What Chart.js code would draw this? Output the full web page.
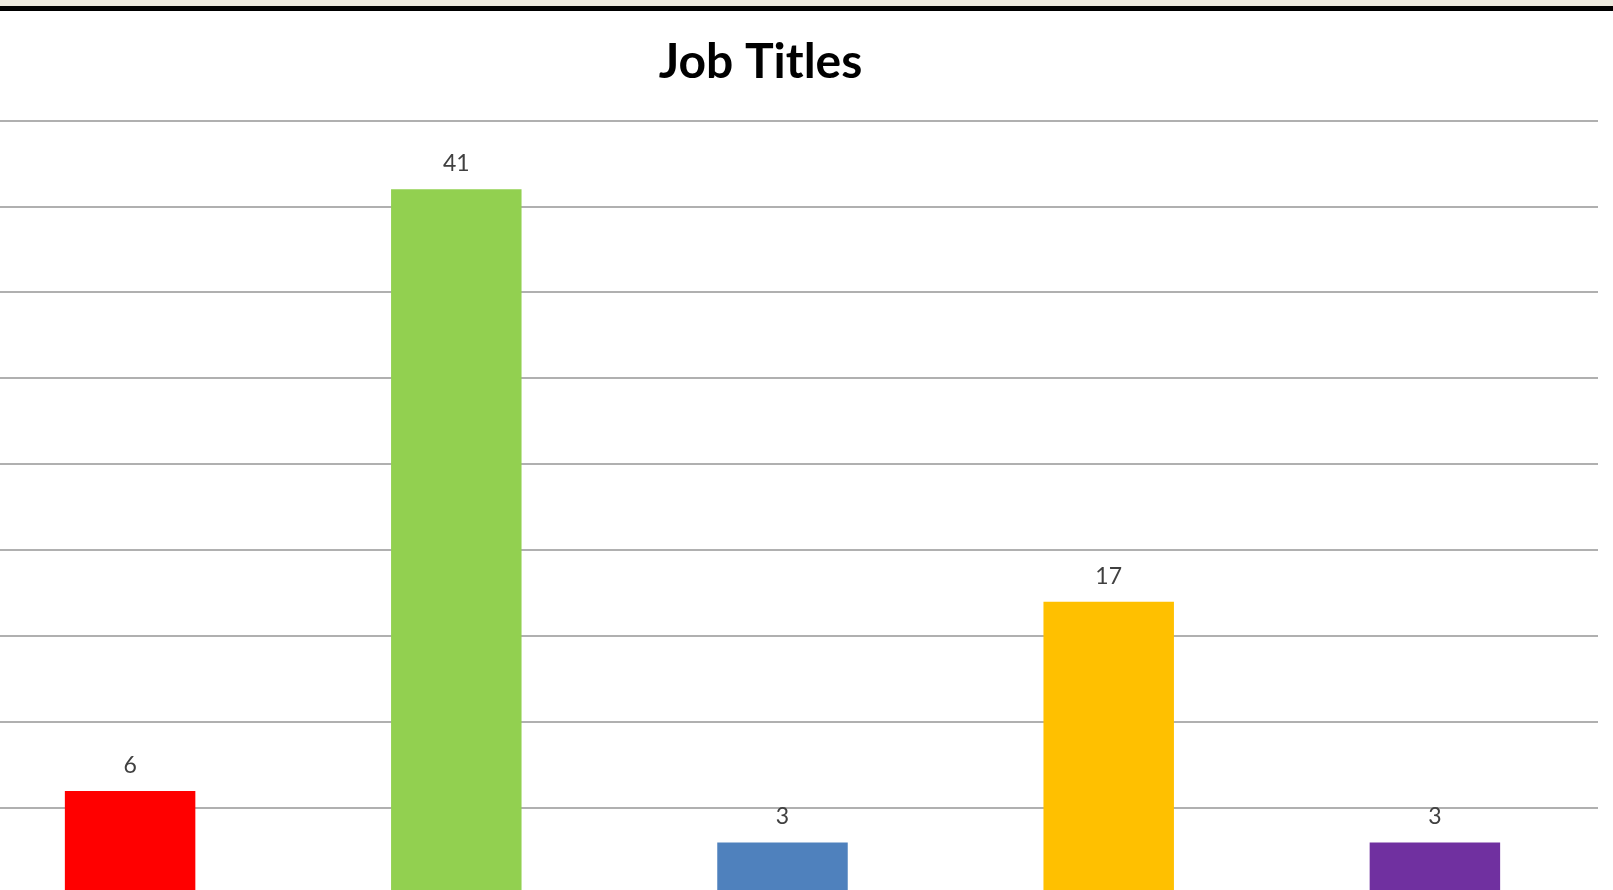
<!DOCTYPE html>
<html>
<head>
<meta charset="utf-8">
<title>Job Titles</title>
<script src="https://cdn.jsdelivr.net/npm/chart.js@4"></script>
<style>
    html, body {
        margin: 0;
        padding: 0;
        width: 1613px;
        height: 890px;
        overflow: hidden;
        background: #ffffff;
    }
    #topStrip {
        position: absolute;
        left: 0;
        top: 0;
        width: 1613px;
        height: 6px;
        background: #ece9de;
        z-index: 2;
    }
    #topRule {
        position: absolute;
        left: 0;
        top: 6px;
        width: 1613px;
        height: 5px;
        background: #000000;
        z-index: 2;
    }
    #jobChart {
        position: absolute;
        left: -77px;
        top: 0;
    }
</style>
</head>
<body>
<div id="topStrip"></div>
<div id="topRule"></div>
<canvas id="jobChart" width="1675" height="900"></canvas>
<script>
// categories are cut off in the reference, so these never show
const categories = ["Title 1", "Title 2", "Title 3", "Title 4", "Title 5"];
const counts = [6, 41, 3, 17, 3];
const barColors = ["#ff0000", "#92d050", "#4f81bd", "#ffc000", "#7030a0"];
const yTicks = [0, 5, 10, 15, 20, 25, 30, 35, 40, 45];

const textColor = "#404040";
const fontFamily = "Lato, 'DejaVu Sans', sans-serif";

// value labels above each bar
const barValueLabels = {
    id: "barValueLabels",
    afterDatasetsDraw: function (chart) {
        const ctx = chart.ctx;
        ctx.save();
        ctx.fillStyle = textColor;
        ctx.font = "23px " + fontFamily;
        ctx.textAlign = "center";
        ctx.textBaseline = "alphabetic";
        chart.getDatasetMeta(0).data.forEach(function (bar, i) {
            ctx.fillText(String(counts[i]), bar.x, bar.y - 18);
        });
        ctx.restore();
    },
};

const ctx = document.getElementById("jobChart").getContext("2d");
new Chart(ctx, {
    type: "bar",
    data: {
        labels: categories,
        datasets: [
            {
                label: "Job Titles",
                data: counts,
                backgroundColor: barColors,
                borderWidth: 0,
                categoryPercentage: 1,
                barPercentage: 0.4,
            },
        ],
    },
    options: {
        responsive: false,
        animation: false,
        layout: {
            padding: { top: 0, right: 0, bottom: 6, left: 0 },
        },
        plugins: {
            legend: { display: false },
            tooltip: { enabled: false },
            title: {
                display: true,
                text: "Job Titles",
                color: "#000000",
                font: {
                    family: fontFamily,
                    size: 48,
                    weight: "bold",
                    lineHeight: 1.2,
                },
                padding: { top: 34, bottom: 29 },
            },
        },
        scales: {
            x: {
                display: false,
            },
            y: {
                min: 0,
                max: 45,
                afterFit: function (scale) {
                    scale.width = 44;
                },
                afterBuildTicks: function (scale) {
                    scale.ticks = yTicks.map((v) => ({ value: v }));
                },
                ticks: { display: false },
                border: { display: false },
                grid: {
                    color: "#b0b0b0",
                    lineWidth: 2,
                    drawTicks: false,
                },
            },
        },
    },
    plugins: [barValueLabels],
});
</script>
</body>
</html>
